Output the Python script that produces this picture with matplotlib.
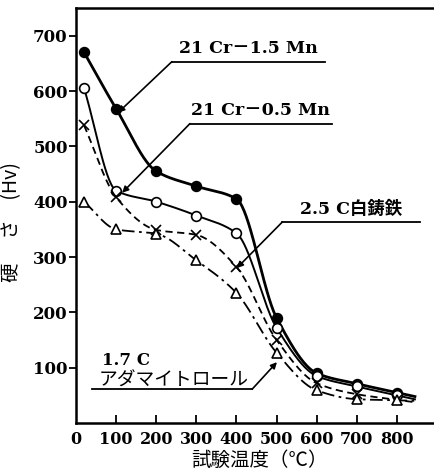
import numpy as np
import matplotlib
matplotlib.use('Agg')
import matplotlib.pyplot as plt

# 試験温度 (°C) と硬さ (Hv)
temps = [20, 100, 200, 300, 400, 500, 600, 700, 800]
hv_cr15mn = [670, 568, 455, 428, 405, 190, 90, 71, 55]
hv_cr05mn = [605, 420, 400, 375, 343, 172, 85, 66, 50]
hv_white = [538, 408, 349, 340, 282, 150, 72, 52, 42]
hv_adamite = [400, 350, 342, 294, 235, 127, 59, 43, 41]

xticks = [0, 100, 200, 300, 400, 500, 600, 700, 800]
yticks = [100, 200, 300, 400, 500, 600, 700]

SERIF = ['DejaVu Serif', 'Noto Sans CJK JP']
CJK = ['Noto Sans CJK JP', 'DejaVu Sans']


def smooth(x, y, x_end=845, n=300):
    # monotone cubic (Fritsch-Carlson) through the points, short tail past last point
    x = np.asarray(x, float)
    y = np.asarray(y, float)
    h = np.diff(x)
    d = np.diff(y) / h
    m = np.zeros_like(y)
    m[0], m[-1] = d[0], d[-1]
    for k in range(1, len(x) - 1):
        if d[k - 1] * d[k] > 0:
            w1 = 2 * h[k] + h[k - 1]
            w2 = h[k] + 2 * h[k - 1]
            m[k] = (w1 + w2) / (w1 / d[k - 1] + w2 / d[k])
    xs = np.linspace(x[0], x[-1], n)
    idx = np.clip(np.searchsorted(x, xs) - 1, 0, len(x) - 2)
    t = (xs - x[idx]) / h[idx]
    h00 = 2 * t**3 - 3 * t**2 + 1
    h10 = t**3 - 2 * t**2 + t
    h01 = -2 * t**3 + 3 * t**2
    h11 = t**3 - t**2
    ys = h00 * y[idx] + h10 * h[idx] * m[idx] + h01 * y[idx + 1] + h11 * h[idx] * m[idx + 1]
    xs = np.append(xs, x_end)
    ys = np.append(ys, y[-1] + m[-1] * (x_end - x[-1]))
    return xs, ys


fig = plt.figure(figsize=(4.35, 4.72), dpi=100)
ax = fig.add_axes([76 / 435, 49 / 472, 359 / 435, 415 / 472])

series = [
    (hv_cr15mn, '-', 2.0, 'o', 'black'),
    (hv_cr05mn, '-', 1.4, 'o', 'white'),
    (hv_white, (0, (4, 2.5)), 1.3, 'x', 'black'),
    (hv_adamite, (0, (7, 2.5, 1.5, 2.5)), 1.3, '^', 'white'),
]
for vals, ls, lw, mk, fc in series:
    xs, ys = smooth(temps, vals)
    ax.plot(xs, ys, color='black', ls=ls, lw=lw)
    ax.plot(temps, vals, ls='none', marker=mk, ms=7,
            mfc=fc, mec='black', mew=1.2)

ax.set_xlim(0, 895)
ax.set_ylim(0, 750)
ax.spines['right'].set_visible(False)
for s in ['left', 'bottom', 'top']:
    ax.spines[s].set_linewidth(1.8)

ax.set_xticks(xticks[1:])
ax.set_yticks(yticks)
ax.tick_params(axis='x', direction='in', length=6, width=1.3, labelbottom=False)
ax.tick_params(axis='y', direction='out', length=5, width=1.3, pad=1,
               labelsize=12, labelfontfamily='DejaVu Serif')
for lab in ax.get_yticklabels():
    lab.set_fontweight('bold')
for v in xticks:
    ax.annotate(str(v), (v, 0), xytext=(0, -6), textcoords='offset points',
                ha='center', va='top', fontsize=11.5, fontweight='bold',
                family='DejaVu Serif', annotation_clip=False)

ax.text(-0.18, 0.485, '硬　 さ　(Hv)', transform=ax.transAxes, rotation=90,
        ha='center', va='center', fontsize=14, family=CJK)
fig.text(260 / 435, 1 - 460 / 472, '試験温度（℃）', ha='center', va='center',
         fontsize=14, family=CJK)

# 引出し線付きラベル
arrow = dict(arrowstyle='-|>', lw=1.2, color='black', mutation_scale=9,
             shrinkA=0, shrinkB=0)
labels = [
    ('21 Cr－1.5 Mn', (239, 621, 653), (105, 561)),
    ('21 Cr－0.5 Mn', (284, 638, 541), (115, 416)),
    ('2.5 C白鋳鉄', (514, 858, 363), (401, 280)),
]
for txt, (x0, x1, yl), target in labels:
    ax.plot([x0, x1], [yl, yl], color='black', lw=1.3)
    ax.annotate('', xy=target, xytext=(x0, yl), arrowprops=arrow)
    ax.text((x0 + x1) / 2, yl + 8, txt, ha='center', va='bottom', fontsize=12.5,
            fontweight='bold', family=SERIF)

ax.plot([40, 439], [61, 61], color='black', lw=1.3)
ax.annotate('', xy=(501, 110), xytext=(439, 61), arrowprops=arrow)
ax.text(65, 113, '1.7 C', ha='left', va='center', fontsize=12,
        fontweight='bold', family=SERIF)
ax.text(56, 78, 'アダマイトロール', ha='left', va='center', fontsize=13.5,
        family=CJK)

fig.savefig('out.png', dpi=100)
